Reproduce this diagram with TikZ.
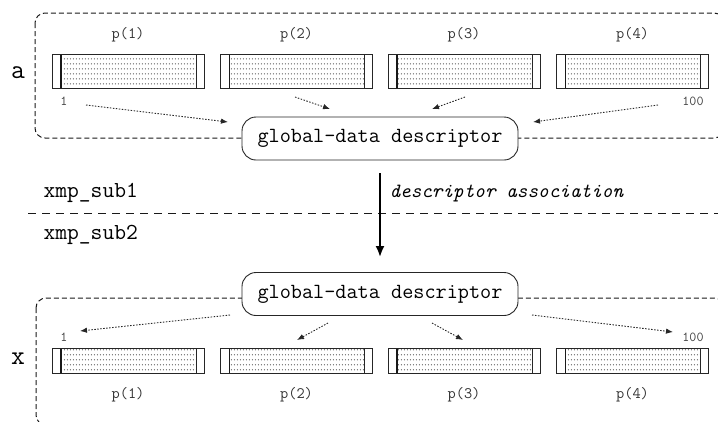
\documentclass[tikz,border=0pt]{standalone}
\usepackage{fontspec}
\usetikzlibrary{arrows.meta,patterns.meta}
\tikzdeclarepattern{
  name=arrdots,
  type=uncolored,
  bounding box={(0bp,0bp) and (3.4bp,5bp)},
  tile size={(3.4bp,5bp)},
  code={\pgfpathcircle{\pgfpoint{1.7bp}{2.5bp}}{0.7bp}\pgfusepath{fill}}
}
\begin{document}
\begin{tikzpicture}[x=1bp,y=-1bp,
  dashbox/.style={draw=black!90, line width=1bp, dash pattern=on 5bp off 3bp, rounded corners=10bp},
  sepline/.style={draw=black!90, line width=1bp, dash pattern=on 8bp off 6bp},
  desc/.style={draw=black!85, fill=white, line width=0.9bp, rounded corners=14bp,
    minimum width=276bp, minimum height=43bp, inner sep=0pt,
    font=\ttfamily\fontsize{21.7}{21.7}\selectfont},
  arr/.style={draw=black!85, line width=0.8bp, minimum width=152bp, inner sep=0pt,
    path picture={
      \fill[pattern=arrdots, pattern color=black!75]
        ([xshift=9bp]path picture bounding box.south west) rectangle
        ([xshift=-8bp]path picture bounding box.north east);
      \draw[black!90, line width=1.5bp]
        ([xshift=9bp]path picture bounding box.south west) --
        ([xshift=9bp]path picture bounding box.north west);
      \draw[black!85, line width=0.8bp]
        ([xshift=-8bp]path picture bounding box.south east) --
        ([xshift=-8bp]path picture bounding box.north east);
    }},
  plabel/.style={text=black!80, font=\ttfamily\fontsize{16}{16}\selectfont},
  idx/.style={text=black!75, font=\ttfamily\fontsize{13.7}{13.7}\selectfont},
  big/.style={font=\ttfamily\fontsize{27}{27}\selectfont},
  mid/.style={font=\ttfamily\fontsize{23}{23}\selectfont},
  flow/.style={draw=black!85, line width=0.9bp, dash pattern=on 1.5bp off 1.5bp,
    -{Latex[length=7bp,width=5.5bp]}},
  bigarrow/.style={draw=black, line width=2bp, -{Latex[length=11bp,width=9bp]}}
]
\useasboundingbox (0,0) rectangle (718,421);
\clip (0,0) rectangle (718,421);

% enclosing dashed boxes
\draw[dashbox] (35,13) rectangle (724,138);
\draw[dashbox] (36,298) rectangle (724,425);

% separator
\coordinate (ml) at (28,213);
\coordinate (mr) at (718,213);
\draw[sepline] (ml) -- (mr);

% variable names
\node[big] (va) at (18,73) {a};
\node[big] (vx) at (18,359) {x};

% arrays and labels
\foreach \i/\x in {1/128,2/296.5,3/464,4/632.5}{
  \node[arr, minimum height=34bp] (t\i) at (\x,71) {};
  \node[plabel] (tl\i) at (\x,35) {p(\i)};
  \node[arr, minimum height=25bp] (b\i) at (\x,360.5) {};
  \node[plabel] (bl\i) at (\x,395) {p(\i)};
}
\node[idx] (ti1) at (64,101) {1};
\node[idx] (ti100) at (693,101) {100};
\node[idx] (bi1) at (64,337) {1};
\node[idx] (bi100) at (693,337) {100};

% descriptors
\node[desc] (dt) at (380,138.5) {global-data descriptor};
\node[desc] (db) at (380,294) {global-data descriptor};

% top arrows
\coordinate (ts1) at (86,105);   \coordinate (te1) at (228,122);
\coordinate (ts2) at (295,97);   \coordinate (te2) at (330,109);
\coordinate (ts3) at (465,97);   \coordinate (te3) at (432,109);
\coordinate (ts4) at (658,105);  \coordinate (te4) at (533,122);
\foreach \i in {1,...,4}{\draw[flow] (ts\i) -- (te\i);}

% bottom arrows
\coordinate (bs1) at (230,315);  \coordinate (be1) at (80,331);
\coordinate (bs2) at (328,323);  \coordinate (be2) at (297,340);
\coordinate (bs3) at (432,323);  \coordinate (be3) at (463,340);
\coordinate (bs4) at (532,315);  \coordinate (be4) at (673,332);
\foreach \i in {1,...,4}{\draw[flow] (bs\i) -- (be\i);}

% association
\draw[bigarrow, shorten <=13bp, shorten >=15bp] (dt) -- (db);
\node[anchor=west, font=\ttfamily\itshape\fontsize{20.3}{20.3}\selectfont] (assoc) at (386,193) {descriptor association};
\node[mid, anchor=west] (s1) at (40,193) {xmp\_sub1};
\node[mid, anchor=west] (s2) at (40,235) {xmp\_sub2};
\end{tikzpicture}
\end{document}
